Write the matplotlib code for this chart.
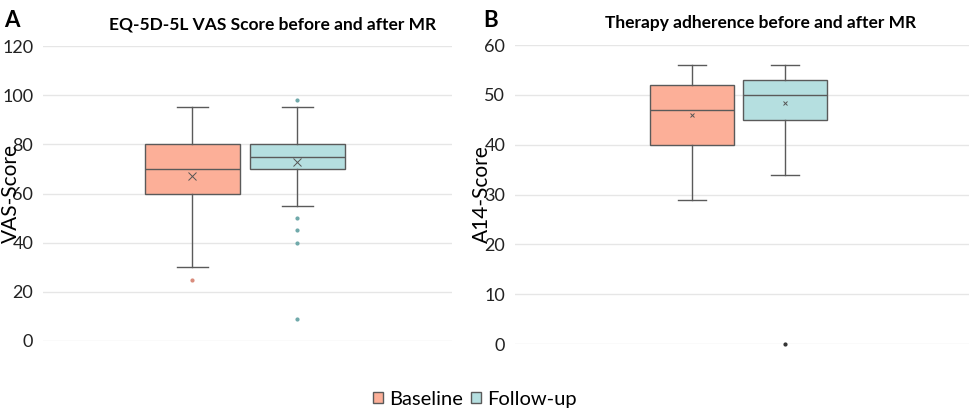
import matplotlib.pyplot as plt

plt.rcParams['font.family'] = ['Lato', 'DejaVu Sans']

groups = ['Baseline', 'Follow-up']
fill_colors = ['#FCAF98', '#B5DFE0']

# EQ-5D-5L VAS score (panel A)
vas_whislo = [30, 55]
vas_q1 = [60, 70]
vas_med = [70, 75]
vas_q3 = [80, 80]
vas_whishi = [95, 95]
vas_mean = [67, 73]
vas_fliers = [[25], [98, 50, 45, 40, 9]]

# A14 therapy adherence score (panel B)
a14_whislo = [29, 34]
a14_q1 = [40, 45]
a14_med = [47, 50]
a14_q3 = [52, 53]
a14_whishi = [56, 56]
a14_mean = [46, 48.3]
a14_fliers = [[], [0]]

vas_ticks = [0, 20, 40, 60, 80, 100, 120]
a14_ticks = [0, 10, 20, 30, 40, 50, 60]


def make_stats(lo, q1, med, q3, hi, mean, fliers):
    out = []
    for i in range(len(groups)):
        out.append(dict(label=groups[i], whislo=lo[i], q1=q1[i], med=med[i],
                        q3=q3[i], whishi=hi[i], mean=mean[i], fliers=fliers[i]))
    return out


def draw_panel(ax, stats, ticks, title, ylabel, xlim, mean_size, title_x,
               flier_colors, label_x):
    bp = ax.bxp(stats, positions=[1, 2], widths=0.9, patch_artist=True,
                showmeans=True, showfliers=True,
                capwidths=0.3,
                boxprops=dict(edgecolor='#5a5a5a', linewidth=1.0),
                medianprops=dict(color='#5a5a5a', linewidth=1.0),
                whiskerprops=dict(color='#5a5a5a', linewidth=1.0),
                capprops=dict(color='#5a5a5a', linewidth=1.0),
                meanprops=dict(marker='x', markeredgecolor='#555555',
                               markersize=mean_size, markeredgewidth=0.7))
    for patch, c in zip(bp['boxes'], fill_colors):
        patch.set_facecolor(c)
    for fl, c in zip(bp['fliers'], flier_colors):
        fl.set_marker('o')
        fl.set_markersize(2)
        fl.set_markerfacecolor(c)
        fl.set_markeredgecolor(c)
        fl.set_clip_on(False)
    ax.set_xlim(*xlim)
    ax.set_ylim(ticks[0], ticks[-1])
    ax.set_yticks(ticks)
    ax.set_xticks([])
    ax.yaxis.grid(True, color='#e6e6e6', linewidth=1.0)
    ax.set_axisbelow(True)
    for s in ax.spines.values():
        s.set_visible(False)
    ax.tick_params(axis='y', length=0, labelsize=13, pad=7, labelcolor='#222222')
    ax.set_ylabel(ylabel, fontsize=15)
    ax.yaxis.set_label_coords(label_x, 0.5)
    ax.set_title(title, fontsize=12.5, fontweight='bold', x=title_x, pad=12)
    return bp


fig = plt.figure(figsize=(9.69, 4.16), dpi=100)
ax1 = fig.add_axes([0.0444, 0.1803, 0.4221, 0.7091])
ax2 = fig.add_axes([0.5315, 0.173, 0.4685, 0.7188])

bp = draw_panel(ax1, make_stats(vas_whislo, vas_q1, vas_med, vas_q3, vas_whishi, vas_mean, vas_fliers),
                vas_ticks, 'EQ-5D-5L VAS Score before and after MR', 'VAS-Score',
                (-0.42, 3.47), 6, 0.56, ['#D98C7C', '#6FA9AA'], -0.055)
draw_panel(ax2, make_stats(a14_whislo, a14_q1, a14_med, a14_q3, a14_whishi, a14_mean, a14_fliers),
           a14_ticks, 'Therapy adherence before and after MR', 'A14-Score',
           (-0.9, 3.98), 3, 0.54, ['#333333', '#333333'], -0.05)

fig.text(0.004, 0.975, 'A', fontsize=16, fontweight='bold', va='top')
fig.text(0.499, 0.975, 'B', fontsize=16, fontweight='bold', va='top')

fig.legend(bp['boxes'], groups, loc='center', bbox_to_anchor=(0.49, 0.04),
           ncol=2, frameon=False, fontsize=14.5, handlelength=0.5, handleheight=0.5,
           handletextpad=0.3, columnspacing=0.4)

fig.savefig('out.png', dpi=100)
